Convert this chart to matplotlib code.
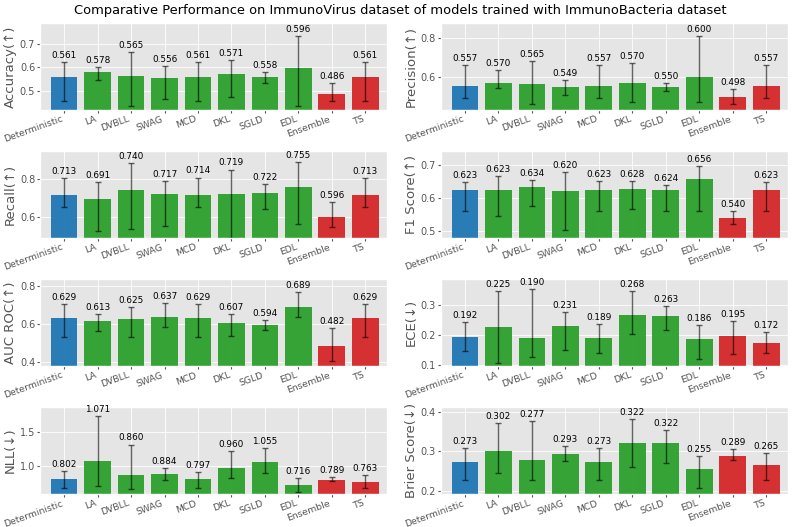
import numpy as np
import matplotlib
matplotlib.use("Agg")
import matplotlib.pyplot as plt

models = ["Deterministic", "LA", "DVBLL", "SWAG", "MCD", "DKL", "SGLD", "EDL", "Ensemble", "TS"]
bar_colors = ["#1f77b4"] + ["#2ca02c"] * 7 + ["#d62728"] * 3

# mean, lower end and upper end of the error bar
acc = [0.561, 0.578, 0.565, 0.556, 0.561, 0.571, 0.558, 0.596, 0.486, 0.561]
acc_lo = [0.456, 0.546, 0.435, 0.466, 0.456, 0.475, 0.534, 0.435, 0.459, 0.456]
acc_hi = [0.621, 0.602, 0.666, 0.606, 0.624, 0.630, 0.580, 0.730, 0.534, 0.621]

prec = [0.557, 0.570, 0.565, 0.549, 0.557, 0.570, 0.550, 0.600, 0.498, 0.557]
prec_lo = [0.494, 0.544, 0.466, 0.511, 0.494, 0.476, 0.532, 0.476, 0.463, 0.494]
prec_hi = [0.660, 0.638, 0.684, 0.585, 0.660, 0.671, 0.569, 0.810, 0.542, 0.660]

rec = [0.713, 0.691, 0.740, 0.717, 0.714, 0.719, 0.722, 0.755, 0.596, 0.713]
rec_lo = [0.652, 0.527, 0.534, 0.551, 0.652, 0.490, 0.643, 0.560, 0.546, 0.652]
rec_hi = [0.803, 0.783, 0.882, 0.788, 0.805, 0.847, 0.770, 0.887, 0.678, 0.803]

f1 = [0.623, 0.623, 0.634, 0.620, 0.623, 0.628, 0.624, 0.656, 0.540, 0.623]
f1_lo = [0.560, 0.545, 0.575, 0.505, 0.560, 0.567, 0.562, 0.560, 0.522, 0.560]
f1_hi = [0.647, 0.665, 0.655, 0.677, 0.650, 0.652, 0.640, 0.695, 0.562, 0.647]

auc = [0.629, 0.613, 0.625, 0.637, 0.629, 0.607, 0.594, 0.689, 0.482, 0.629]
auc_lo = [0.532, 0.561, 0.531, 0.581, 0.532, 0.536, 0.570, 0.637, 0.406, 0.532]
auc_hi = [0.705, 0.651, 0.688, 0.710, 0.705, 0.654, 0.620, 0.769, 0.578, 0.705]

ece = [0.192, 0.225, 0.190, 0.231, 0.189, 0.268, 0.263, 0.186, 0.195, 0.172]
ece_lo = [0.147, 0.107, 0.127, 0.148, 0.141, 0.203, 0.216, 0.120, 0.137, 0.139]
ece_hi = [0.244, 0.347, 0.354, 0.276, 0.237, 0.347, 0.296, 0.233, 0.246, 0.209]

nll = [0.802, 1.071, 0.860, 0.884, 0.797, 0.960, 1.055, 0.716, 0.789, 0.763]
nll_lo = [0.676, 0.705, 0.662, 0.786, 0.676, 0.819, 0.890, 0.614, 0.771, 0.667]
nll_hi = [0.914, 1.724, 1.310, 0.967, 0.905, 1.214, 1.252, 0.814, 0.833, 0.857]

brier = [0.273, 0.302, 0.277, 0.293, 0.273, 0.322, 0.322, 0.255, 0.289, 0.265]
brier_lo = [0.229, 0.246, 0.229, 0.275, 0.229, 0.261, 0.271, 0.208, 0.277, 0.229]
brier_hi = [0.308, 0.371, 0.377, 0.314, 0.308, 0.382, 0.353, 0.289, 0.306, 0.296]

labels = ["Accuracy(↑)", "Precision(↑)", "Recall(↑)", "F1 Score(↑)",
          "AUC ROC(↑)", "ECE(↓)", "NLL(↓)", "Brier Score(↓)"]
yticks = [[0.5, 0.6, 0.7], [0.6, 0.8], [0.6, 0.8], [0.5, 0.6, 0.7],
          [0.4, 0.6, 0.8], [0.1, 0.2, 0.3], [1.0, 1.5], [0.2, 0.3, 0.4]]

panels = [(acc, acc_lo, acc_hi, (0.421, 0.786)),
          (prec, prec_lo, prec_hi, (0.436, 0.873)),
          (rec, rec_lo, rec_hi, (0.490, 0.943)),
          (f1, f1_lo, f1_hi, (0.481, 0.740)),
          (auc, auc_lo, auc_hi, (0.379, 0.835)),
          (ece, ece_lo, ece_hi, (0.097, 0.386)),
          (nll, nll_lo, nll_hi, (0.586, 1.857)),
          (brier, brier_lo, brier_hi, (0.193, 0.411))]

plt.style.use("ggplot")
plt.rcParams["grid.linewidth"] = 0.6
fig, axes = plt.subplots(4, 2, figsize=(8, 5.27), dpi=100)
fig.subplots_adjust(left=0.05, right=0.985, top=0.956, bottom=0.063,
                    wspace=0.155, hspace=0.48)

x = np.arange(len(models))
for ax, (vals, lo, hi, ylim), lab, yt in zip(axes.flat, panels, labels, yticks):
    vals = np.array(vals)
    err = [vals - np.array(lo), np.array(hi) - vals]
    ax.bar(x, vals, width=0.8, color=bar_colors, alpha=0.95)
    ax.errorbar(x, vals, yerr=err, fmt="none", ecolor="black", alpha=0.6,
                elinewidth=1, capsize=2.5, capthick=1)
    for xi, v, h in zip(x, vals, hi):
        ax.annotate("%.3f" % v, (xi, h), xytext=(0, 1.5), textcoords="offset points",
                    ha="center", va="bottom", fontsize=6.4, color="black")
    ax.set_ylim(*ylim)
    ax.set_xlim(-0.72, 9.65)
    ax.set_yticks(yt)
    ax.set_xticks(x)
    ax.set_xticklabels(models, rotation=20, ha="right", fontsize=6.7, color="#555555")
    ax.tick_params(axis="both", length=2, pad=1.5)
    ax.tick_params(axis="y", labelsize=7, labelcolor="#555555")
    ax.set_ylabel(lab, fontsize=9.5, color="#555555", labelpad=2)

fig.suptitle("Comparative Performance on ImmunoVirus dataset of models trained with ImmunoBacteria dataset",
             fontsize=9.4, y=0.992)
fig.savefig("out.png")
